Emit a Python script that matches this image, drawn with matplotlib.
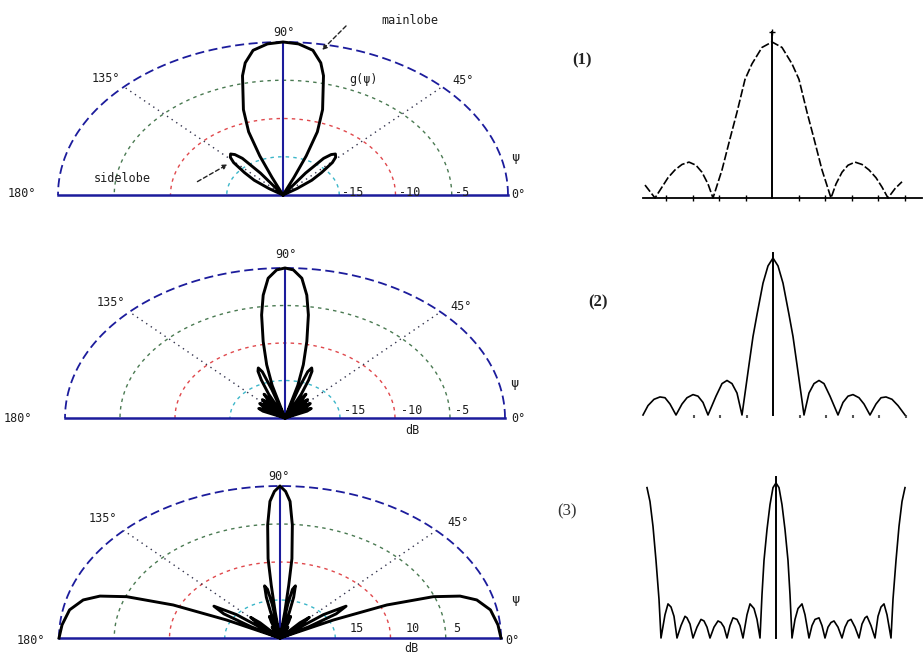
import numpy as np
import matplotlib
matplotlib.use("Agg")
import matplotlib.pyplot as plt

# ---------------- data ----------------
# Polar patterns: half pattern, offset from broadside (deg) -> level (dB), mirrored about 90 deg
p1_off = [0, 4, 8, 11, 13, 17.5, 20.3, 22, 23, 24, 33, 35, 37, 39, 41, 43.5, 46, 49.5, 53, 56, 58, 90]
p1_db = [0, -0.2, -0.9, -2.4, -4.0, -8.3, -11.2, -14.5, -17.5, -20, -20, -16.5, -14, -13.2, -12.9,
         -13.2, -13.9, -15.5, -16.8, -18.5, -20, -20]

p2_off = [0, 2.2, 4.7, 6.9, 8.8, 11, 13.2, 15, 16.5, 17.5, 18.5, 20, 21.5, 23, 25, 27,
          29, 31, 33, 35, 37.5, 40, 42.5, 45, 47.5, 50, 52.5, 55, 58.5, 62, 65.5, 70, 90]
p2_db = [0, -0.24, -1.3, -3.5, -6.1, -9.6, -12.7, -15.5, -20, -16, -13.5, -12.9, -13.3, -14.5, -16.5, -20,
         -17.2, -16.3, -17.2, -20, -17.3, -16.8, -17.3, -20, -17.5, -17, -17.5, -20, -17.8, -17.3, -17.8, -20, -20]

p3_off = [0, 1.5, 2.9, 4.3, 5.9, 6.5, 7.2, 7.8, 9, 10, 11.5, 13, 14, 15.1, 17, 18.7, 20.5, 22.6,
          25, 26.7, 28.5, 30.7, 33, 34.8, 37, 39.4, 42, 44.4, 47, 49.5, 52, 55, 58, 60.5, 62.3,
          63.9, 65.8, 68.6, 71.3, 74.3, 79, 85, 90]
p3_db = [0, -0.7, -2, -5.1, -9.5, -13, -16.5, -20, -15.5, -13.5, -13, -14.5, -16.5, -20, -17.8, -17,
         -17.8, -20, -18.8, -18.4, -18.8, -20, -19.4, -19.2, -19.4, -20, -17.3, -16.2, -17.3, -20,
         -15.0, -12.7, -14.0, -17.0, -20, -14.6, -9.4, -5.1, -2.8, -1.5, -0.6, -0.2, 0]

ring_db = [-15, -10, -5]
ring_colors = ["#3bb6c9", "#e0484c", "#4a7a52"]
spoke_deg = [45, 135]

# Right-hand linear patterns: position (relative to centre) -> normalised amplitude
r1_x = [-127, -117, -110, -104, -97, -90, -83, -76, -70, -64, -59, -50, -42, -35, -27, -20, -10, 0,
        10, 20, 27, 35, 42, 50, 59, 64, 70, 76, 83, 90, 97, 104, 110, 116, 123, 130]
r1_y = [0.083, 0, 0.07, 0.13, 0.18, 0.215, 0.23, 0.21, 0.165, 0.09, 0, 0.18, 0.38, 0.55, 0.76, 0.86,
        0.965, 1.0, 0.965, 0.86, 0.76, 0.55, 0.38, 0.18, 0, 0.09, 0.165, 0.21, 0.23, 0.215, 0.18, 0.13,
        0.07, 0, 0.06, 0.104]

r2_x = [-130, -125, -119, -113, -108, -103, -97, -91, -86, -80, -75, -70, -65, -57, -51, -46, -41,
        -36, -31, -24, -20, -16, -10, -5, 0, 5, 10, 16, 20, 24, 31, 36, 41, 46, 51, 57, 65, 70, 75,
        80, 86, 91, 97, 103, 108, 113, 119, 125, 132]
r2_y = [0, 0.06, 0.1, 0.115, 0.11, 0.07, 0, 0.07, 0.11, 0.13, 0.12, 0.08, 0, 0.12, 0.2, 0.22, 0.2,
        0.14, 0, 0.32, 0.5, 0.64, 0.84, 0.95, 1.0, 0.95, 0.84, 0.64, 0.5, 0.32, 0, 0.14, 0.2, 0.22,
        0.2, 0.12, 0, 0.08, 0.12, 0.13, 0.11, 0.07, 0, 0.07, 0.11, 0.115, 0.1, 0.06, 0]

r3_off = [0, 3, 6, 9, 12, 14, 16, 19, 22, 26, 29, 33, 36, 39, 43, 46, 49, 52, 55, 58, 62, 66, 69,
          72, 75, 79, 83, 86, 89, 91, 95, 99, 102, 105, 108, 111, 115, 117, 120, 123, 126, 129]
r3_amp = [1, 0.97, 0.86, 0.7, 0.5, 0.28, 0, 0.12, 0.19, 0.22, 0.15, 0, 0.08, 0.12, 0.13, 0.08, 0,
          0.07, 0.1, 0.11, 0.07, 0, 0.07, 0.11, 0.12, 0.07, 0, 0.09, 0.13, 0.14, 0.08, 0, 0.14, 0.2,
          0.22, 0.15, 0, 0.25, 0.5, 0.72, 0.88, 0.97]

tick_pos = [-106, -79.5, -53, -26.5, 26.5, 53, 79.5, 106, 132.5]

# ---------------- figure ----------------
W, H = 923, 656
fig = plt.figure(figsize=(W / 100, H / 100), dpi=100)
plt.rcParams["font.family"] = ["DejaVu Sans"]

BLUE = "#1c1c9c"
LABEL_FONT = ["DejaVu Sans Mono", "DejaVu Sans"]


def fx(x):
    return x / W


def fy(y):
    return 1 - y / H


def ptext(x, y, s, **kw):
    kw.setdefault("fontsize", 8.5)
    kw.setdefault("color", "#1e1e1e")
    kw.setdefault("family", LABEL_FONT)
    fig.text(fx(x), fy(y), s, ha="center", va="center", **kw)


def polar_panel(cx, cy, rx, ry, off, db):
    Hh = 2 * ry
    bottom_pix = cy + Hh / 4
    ax = fig.add_axes([fx(cx - rx), fy(bottom_pix), 2 * rx / W, Hh / H], projection="polar")
    ax.set_thetamin(0)
    ax.set_thetamax(180)
    ax.set_aspect("auto")
    ax.set_rlim(-20, 0)
    ax.axis("off")
    th = np.linspace(0, np.pi, 361)
    for rd, c in zip(ring_db, ring_colors):
        ax.plot(th, np.full_like(th, rd), color=c, lw=1.0, ls=(0, (2.5, 3)), clip_on=False)
    ax.plot(th, np.zeros_like(th), color=BLUE, lw=1.3, ls=(0, (5, 2.5)), clip_on=False)
    for sd in spoke_deg:
        ax.plot([np.deg2rad(sd)] * 2, [-20, 0], color="#33334d", lw=1.0, ls=(0, (1, 3)), clip_on=False)
    ax.plot([np.pi / 2] * 2, [-20, 0], color=BLUE, lw=1.5, clip_on=False)
    ax.plot([0, 0], [-20, 0], color=BLUE, lw=1.8, clip_on=False)
    ax.plot([np.pi, np.pi], [-20, 0], color=BLUE, lw=1.8, clip_on=False)
    off = np.asarray(off, float)
    db = np.asarray(db, float)
    theta = np.deg2rad(np.r_[90 - off[::-1], 90 + off[1:]])
    level = np.r_[db[::-1], db[1:]]
    ax.plot(theta, level, color="black", lw=2.1, clip_on=False, solid_joinstyle="round")
    return ax


# panel 1
polar_panel(283, 195, 225, 153, p1_off, p1_db)
ptext(284, 32, "90°")
ptext(106, 78, "135°")
ptext(463, 80, "45°")
ptext(22, 194, "180°")
ptext(518, 195, "0°")
ptext(515, 158, "ψ", fontsize=9.5)
ptext(363, 79, "g(ψ)")
ptext(410, 20, "mainlobe")
ptext(122, 178, "sidelobe")
ptext(353, 192, "-15")
ptext(410, 192, "-10")
ptext(462, 192, "-5")
fig.add_artist(matplotlib.patches.FancyArrowPatch(
    (348, H - 24), (320, H - 52), transform=None, arrowstyle="-|>", mutation_scale=7,
    ls=(0, (3, 2)), lw=1.0, color="#222222"))
fig.add_artist(matplotlib.patches.FancyArrowPatch(
    (195, H - 183), (230, H - 163), transform=None, arrowstyle="-|>", mutation_scale=7,
    ls=(0, (3, 2)), lw=1.0, color="#222222"))

# panel 2
polar_panel(285, 418, 220, 150, p2_off, p2_db)
ptext(286, 255, "90°")
ptext(111, 303, "135°")
ptext(461, 306, "45°")
ptext(18, 418, "180°")
ptext(518, 418, "0°")
ptext(514, 383, "ψ", fontsize=9.5)
ptext(355, 411, "-15")
ptext(412, 411, "-10")
ptext(462, 411, "-5")
ptext(412, 431, "dB")

# panel 3
polar_panel(280, 638, 221, 152, p3_off, p3_db)
ptext(279, 477, "90°")
ptext(103, 519, "135°")
ptext(458, 522, "45°")
ptext(31, 641, "180°")
ptext(512, 640, "0°")
ptext(515, 600, "ψ", fontsize=9.5)
ptext(357, 629, "15")
ptext(413, 629, "10")
ptext(457, 629, "5")
ptext(411, 648, "dB")

# ---------------- right-hand panels ----------------
# (1)
a1 = fig.add_axes([fx(643), fy(198), (922 - 643) / W, (198 - 22) / H])
a1.set_xlim(-129, 150)
a1.set_ylim(0, 1.128)
a1.plot(r1_x, r1_y, color="black", lw=1.2, ls=(0, (5, 1.5)), clip_on=False)
a1.plot([0, 0], [0, 1.064], color="black", lw=1.4, clip_on=False)
a1.plot([0], [1.064], marker="+", ms=5, color="black", clip_on=False)
for s in ["top", "left", "right"]:
    a1.spines[s].set_visible(False)
a1.spines["bottom"].set_linewidth(1.3)
a1.set_yticks([])
a1.set_xticks(tick_pos)
a1.set_xticklabels([])
a1.tick_params(axis="x", direction="inout", length=5, width=1)
a1.patch.set_alpha(0)

# (2)
a2 = fig.add_axes([fx(645), fy(415), (918 - 645) / W, (415 - 240) / H])
a2.set_xlim(-128, 145)
a2.set_ylim(0, 1.115)
a2.plot(r2_x, r2_y, color="black", lw=1.2, clip_on=False)
a2.plot([0, 0], [0, 1.03], color="black", lw=1.4, clip_on=False)
for s in a2.spines.values():
    s.set_visible(False)
a2.set_yticks([])
a2.set_xticks(tick_pos[1:])
a2.set_xticklabels([])
a2.tick_params(axis="x", direction="out", length=2, width=1.5, color="#555555")
a2.patch.set_alpha(0)

# (3)
a3 = fig.add_axes([fx(640), fy(638), (912 - 640) / W, (638 - 465) / H])
a3.set_xlim(-136, 136)
a3.set_ylim(0, 1.116)
r3_o = np.asarray(r3_off, float)
r3_a = np.asarray(r3_amp, float)
a3.plot(np.r_[-r3_o[::-1], r3_o[1:]], np.r_[r3_a[::-1], r3_a[1:]], color="black", lw=1.2, clip_on=False)
a3.plot([0, 0], [0, 1.04], color="black", lw=1.4, clip_on=False)
a3.axis("off")

fig.text(fx(582), fy(60), "(1)", ha="center", va="center", fontsize=12,
         family=["Liberation Serif", "DejaVu Serif"], fontweight="bold", color="#222222")
fig.text(fx(598), fy(302), "(2)", ha="center", va="center", fontsize=12,
         family=["Liberation Serif", "DejaVu Serif"], fontweight="bold", color="#222222")
fig.text(fx(567), fy(511), "(3)", ha="center", va="center", fontsize=12,
         family=["Liberation Serif", "DejaVu Serif"], color="#333333")

fig.savefig("out.png", dpi=100)
